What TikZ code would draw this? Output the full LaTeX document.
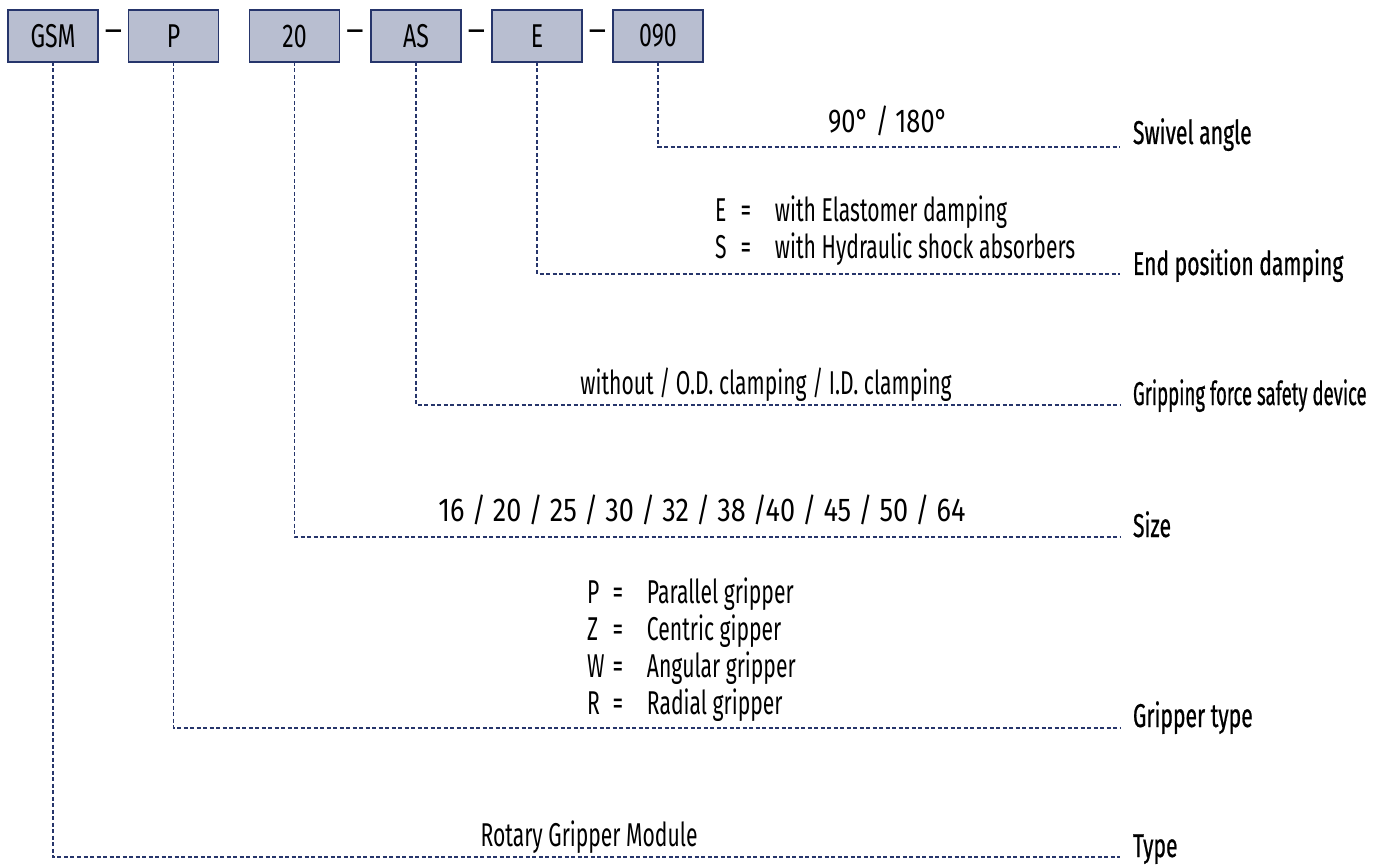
\documentclass[tikz,border=0pt]{standalone}
\usepackage{fontspec}
\usepackage{graphicx}
\setmainfont[FakeStretch=0.64]{Fira Sans}
\newfontfamily\labfont[FakeStretch=0.64,FakeBold=0.6]{Fira Sans}
\newfontfamily\numfont[FakeStretch=0.82]{Fira Sans}
\newfontfamily\numfontb[FakeStretch=0.77]{Fira Sans}
\newfontfamily\boxfont[FakeStretch=0.7]{Fira Sans}
\definecolor{navy}{HTML}{26356B}
\definecolor{boxfill}{HTML}{B8BED0}
\newcommand{\optrow}[2]{\makebox[21pt][l]{#1}\makebox[20pt][c]{=}\hspace{19pt}#2}
\begin{document}
\begin{tikzpicture}[x=1pt,y=-1pt,
  every node/.style={inner sep=0pt,outer sep=0pt,font=\fontsize{33}{37}\selectfont},
  codebox/.style={draw=navy,line width=1.3pt,fill=boxfill,minimum width=90pt,minimum height=52pt,font=\fontsize{33}{37}\boxfont},
  lead/.style={draw=navy,line width=1.1pt,dash pattern=on 4pt off 2.5pt},
  lab/.style={anchor=base west,font=\fontsize{33}{37}\labfont},
  desc/.style={anchor=base},
  sep/.style={anchor=center}]
\useasboundingbox (0,0) rectangle (1388,866);
% code boxes
\node[codebox] (gsm) at (53,36) {GSM};
\node[codebox] (p) at (173.5,36) {P};
\node[codebox] (sz) at (294.5,36) {20};
\node[codebox] (as) at (416,36) {AS};
\node[codebox] (e) at (537,36) {E};
\node[codebox] (ang) at (658,36) {090};
\node[sep] (d1) at (113.5,36) {---};
\node[sep] (d2) at (355,36) {---};
\node[sep] (d3) at (476.5,36) {---};
\node[sep] (d4) at (597.5,36) {---};
% line ends
\coordinate (eang) at (1120,147);
\coordinate (ee) at (1120,274);
\coordinate (eas) at (1120,405);
\coordinate (esz) at (1120,537);
\coordinate (ep) at (1120,728);
\coordinate (egsm) at (1120,857);
\draw[lead] (ang.south) |- (eang);
\draw[lead] (e.south) |- (ee);
\draw[lead] (as.south) |- (eas);
\draw[lead] (sz.south) |- (esz);
\draw[lead] (p.south) |- (ep);
\draw[lead] (gsm.south) |- (egsm);
% labels
\node[lab] (lang) at (1133,144) {Swivel angle};
\node[lab] (le) at (1133,275) {End position damping};
\node[lab] (las) at (1133,405) {\scalebox{0.88}[1]{Gripping force safety device}};
\node[lab] (lsz) at (1133,537) {Size};
\node[lab] (lp) at (1133,727) {Gripper type};
\node[lab] (lgsm) at (1133,857) {Type};
% descriptions
\node[desc] (dang) at (888,133) {\numfontb 90° / 180°};
\node[anchor=base west,align=left] (de) at (715,259) {\optrow{E}{with Elastomer damping}\\\optrow{S}{with Hydraulic shock absorbers}};
\node[desc] (das) at (766,394) {without / O.D. clamping / I.D. clamping};
\node[desc] (dsz) at (702,521) {\numfont 16 / 20 / 25 / 30 / 32 / 38 /40 / 45 / 50 / 64};
\node[anchor=base west,align=left] (dp) at (587,714) {\optrow{P}{Parallel gripper}\\\optrow{Z}{Centric gipper}\\\optrow{W}{Angular gripper}\\\optrow{R}{Radial gripper}};
\node[desc] (dgsm) at (589,846) {Rotary Gripper Module};
\end{tikzpicture}
\end{document}
